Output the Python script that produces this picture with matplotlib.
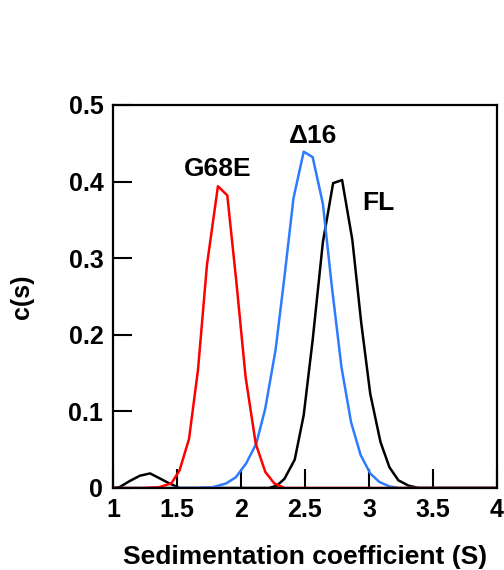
import matplotlib
matplotlib.use("Agg")
import matplotlib.pyplot as plt

plt.rcParams['font.family'] = ['Liberation Sans', 'DejaVu Sans']
plt.rcParams['font.weight'] = 'bold'

# sedimentation coefficient (S) and c(s) for each construct
s_g68e = [1.0, 1.23, 1.36, 1.456, 1.52, 1.594, 1.664, 1.734, 1.82, 1.893, 1.964,
          2.036, 2.115, 2.19, 2.26, 2.34, 2.5, 4.0]
c_g68e = [0.0, 0.0, 0.001, 0.006, 0.023, 0.064, 0.154, 0.291, 0.394, 0.382, 0.269,
          0.145, 0.058, 0.021, 0.006, 0.0, 0.0, 0.0]

s_d16 = [1.0, 1.65, 1.78, 1.885, 1.96, 2.04, 2.12, 2.19, 2.27, 2.34, 2.41, 2.49,
         2.56, 2.64, 2.71, 2.785, 2.86, 2.935, 3.01, 3.08, 3.16, 3.24, 4.0]
c_d16 = [0.0, 0.0, 0.001, 0.006, 0.014, 0.032, 0.058, 0.104, 0.18, 0.276, 0.378, 0.439,
         0.432, 0.371, 0.263, 0.158, 0.086, 0.043, 0.019, 0.008, 0.002, 0.0, 0.0]

s_fl = [1.0, 1.05, 1.13, 1.21, 1.29, 1.36, 1.44, 1.52, 2.22, 2.28, 2.34, 2.42, 2.49,
        2.56, 2.64, 2.72, 2.79, 2.87, 2.94, 3.01, 3.09, 3.16, 3.23, 3.31, 3.39, 4.0]
c_fl = [0.0, 0.001, 0.009, 0.016, 0.019, 0.013, 0.006, 0.0, 0.0, 0.003, 0.012, 0.037, 0.095,
        0.193, 0.321, 0.398, 0.402, 0.324, 0.215, 0.123, 0.06, 0.027, 0.01, 0.003, 0.0, 0.0]

labels = ["G68E", "\u039416", "FL"]
label_pos = [(1.82, 0.417), (2.56, 0.459), (3.07, 0.372)]

fig = plt.figure(figsize=(5.04, 5.70), dpi=100)
ax = fig.add_axes([0.2242, 0.1439, 0.7618, 0.6719])

ax.plot(s_fl, c_fl, color='black', lw=1.8)
ax.plot(s_d16, c_d16, color='#2f7bff', lw=1.8)
ax.plot(s_g68e, c_g68e, color='#ff0000', lw=1.8)

for txt, (x, y) in zip(labels, label_pos):
    ax.text(x, y, txt, ha='center', va='center', fontsize=19, fontweight='bold')

ax.set_xlim(1, 4)
ax.set_ylim(0, 0.5)
ax.set_xticks([1, 1.5, 2, 2.5, 3, 3.5, 4])
ax.set_xticklabels(['1', '1.5', '2', '2.5', '3', '3.5', '4'])
ax.set_yticks([0, 0.1, 0.2, 0.3, 0.4, 0.5])
ax.set_yticklabels(['0', '0.1', '0.2', '0.3', '0.4', '0.5'])
ax.tick_params(direction='in', length=14, width=1.5, labelsize=18, pad=7)

for sp in ax.spines.values():
    sp.set_linewidth(1.6)

ax.set_xlabel("Sedimentation coefficient (S)", fontsize=19, fontweight='bold')
ax.set_ylabel("c(s)", fontsize=18, fontweight='bold')
ax.xaxis.set_label_coords(0.5, -0.148)
ax.yaxis.set_label_coords(-0.206, 0.5)

fig.savefig("out.png", dpi=100)
